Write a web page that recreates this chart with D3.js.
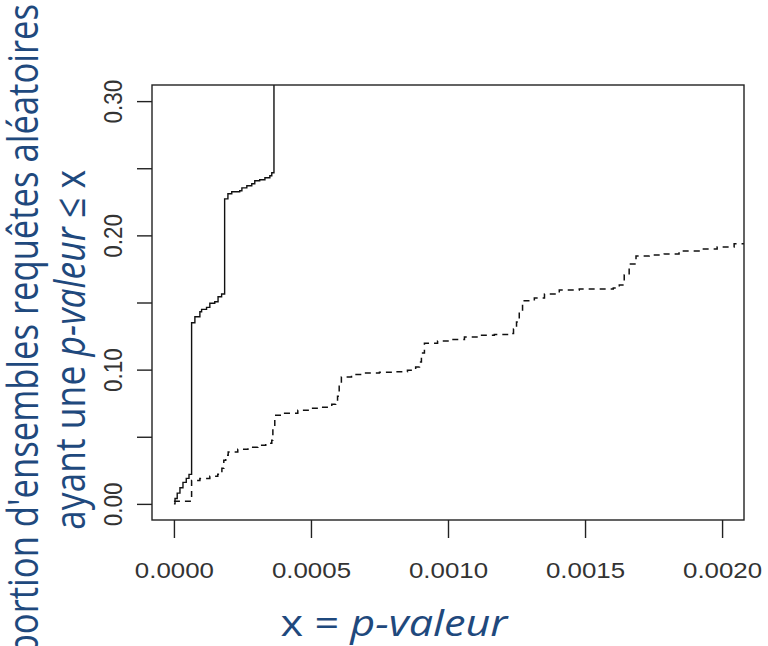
<!DOCTYPE html>
<html>
<head>
<meta charset="utf-8">
<script src="https://cdn.jsdelivr.net/npm/d3@7"></script>
<style>
  body { margin: 0; background: #fff; }
  svg { display: block; }
</style>
</head>
<body>
<div id="chart"></div>
<script>
// p-values (x) and cumulative proportion (y) at each jump of the two curves
var solidX = [0, 0.000004, 0.000012, 0.000022, 0.000033, 0.000045, 0.000055, 0.0000645,
  0.0000765, 0.0000947, 0.000101, 0.000119, 0.000131, 0.000149, 0.000161, 0.000174, 0.000185,
  0.000197, 0.000211, 0.00024, 0.000248, 0.000266, 0.000284, 0.000295, 0.000313, 0.000332,
  0.00035, 0.000357, 0.000365];
var solidY = [0, 0.004, 0.008, 0.012, 0.016, 0.019, 0.022, 0.1349,
  0.1394, 0.1431, 0.1449, 0.1464, 0.1494, 0.1506, 0.1543, 0.1563, 0.2272,
  0.231, 0.2325, 0.2332, 0.2354, 0.237, 0.2384, 0.2407, 0.2414, 0.2429,
  0.2444, 0.2466, 0.36];

var dashX = [0, 0.0000645, 0.0000947, 0.000131, 0.00016, 0.000175, 0.000182, 0.000189, 0.000198,
  0.000233, 0.00027, 0.000306, 0.000335, 0.000357, 0.000361, 0.000368,
  0.000404, 0.000452, 0.000495, 0.000539, 0.000576, 0.00059, 0.000597, 0.000603, 0.000611,
  0.000648, 0.000696, 0.00075, 0.000805, 0.000852, 0.000882, 0.000896, 0.000903, 0.000914,
  0.000962, 0.001013, 0.00106, 0.001115, 0.001169, 0.001217, 0.001239, 0.00125, 0.00126, 0.001272,
  0.001315, 0.001352, 0.001406, 0.001479, 0.001552, 0.001603, 0.001625, 0.001643, 0.001661, 0.001686,
  0.001734, 0.001789, 0.001843, 0.001916, 0.001982, 0.002044, 0.00209];
var dashY = [0.002, 0.0175, 0.019, 0.0205, 0.022, 0.0265, 0.0325, 0.0362, 0.0387,
  0.0407, 0.0422, 0.0437, 0.0451, 0.0474, 0.0563, 0.066,
  0.0675, 0.0698, 0.0713, 0.072, 0.0743, 0.0757, 0.0802, 0.0877, 0.0946,
  0.0963, 0.0974, 0.0981, 0.0985, 0.0996, 0.1019, 0.1056, 0.1123, 0.1196,
  0.1213, 0.1224, 0.1243, 0.1257, 0.1261, 0.1269, 0.1302, 0.1354, 0.1429, 0.1513,
  0.1534, 0.1563, 0.1593, 0.1601, 0.1601, 0.1608, 0.1631, 0.1705, 0.1787, 0.1847,
  0.1854, 0.1862, 0.1884, 0.1899, 0.1914, 0.1937, 0.1951];

var xTicks = [0, 0.0005, 0.001, 0.0015, 0.002];
var xTickLabels = ["0.0000", "0.0005", "0.0010", "0.0015", "0.0020"];
var yTicks = [0, 0.05, 0.1, 0.15, 0.2, 0.25, 0.3];
var yTickLabels = ["0.00", "", "0.10", "", "0.20", "", "0.30"];

function drawChart() {
  var width = 768,
      height = 646;
  var plotLeft = 152, plotRight = 744, plotTop = 85, plotBottom = 520;
  var stretch = 1.15;   // the picture is a bit wider than tall
  var blue = "#1f497d";

  var svg = d3.select("#chart")
    .append("svg")
      .attr("width", width)
      .attr("height", height)
      .style("background", "#fff");

  var x = d3.scaleLinear().domain([-0.00008, 0.00208]).range([plotLeft, plotRight]);
  var y = d3.scaleLinear().domain([-0.012, 0.312]).range([plotBottom, plotTop]);

  svg.append("clipPath")
      .attr("id", "plotclip")
    .append("rect")
      .attr("x", plotLeft)
      .attr("y", plotTop)
      .attr("width", plotRight - plotLeft)
      .attr("height", plotBottom - plotTop);

  // curves (empirical cumulative distributions, so step shape)
  var line = d3.line()
    .x(function(d) { return x(d[0]); })
    .y(function(d) { return y(d[1]); })
    .curve(d3.curveStepAfter);

  var plot = svg.append("g").attr("clip-path", "url(#plotclip)");

  plot.append("path")
    .datum(d3.zip(solidX, solidY))
    .attr("d", line)
    .attr("fill", "none")
    .attr("stroke", "#111")
    .attr("stroke-width", 1.4);

  plot.append("path")
    .datum(d3.zip(dashX, dashY))
    .attr("d", line)
    .attr("fill", "none")
    .attr("stroke", "#111")
    .attr("stroke-width", 1.5)
    .attr("stroke-dasharray", "6,5");

  // box
  svg.append("rect")
    .attr("x", plotLeft)
    .attr("y", plotTop)
    .attr("width", plotRight - plotLeft)
    .attr("height", plotBottom - plotTop)
    .attr("fill", "none")
    .attr("stroke", "#222")
    .attr("stroke-width", 1.4);

  // x axis
  var xAxis = svg.append("g")
    .attr("transform", "translate(0," + plotBottom + ")")
    .call(d3.axisBottom(x)
      .tickValues(xTicks)
      .tickFormat(function(d, i) { return xTickLabels[i]; })
      .tickSize(18)
      .tickSizeOuter(0));
  xAxis.select(".domain").remove();
  xAxis.selectAll("line").attr("stroke", "#222").attr("stroke-width", 1.4);
  xAxis.selectAll("text")
    .attr("y", 58)
    .attr("dy", 0)
    .attr("transform", "scale(" + stretch + ",1)")
    .attr("fill", "#333")
    .style("font-family", "'Liberation Sans', Arial, sans-serif")
    .style("font-size", "22.5px");

  // y axis
  var yAxis = svg.append("g")
    .attr("transform", "translate(" + plotLeft + ",0)")
    .call(d3.axisLeft(y)
      .tickValues(yTicks)
      .tickFormat(function(d, i) { return yTickLabels[i]; })
      .tickSize(15)
      .tickSizeOuter(0));
  yAxis.select(".domain").remove();
  yAxis.selectAll("line").attr("stroke", "#222").attr("stroke-width", 1.4);
  yAxis.selectAll("text")
    .attr("x", 0)
    .attr("y", 0)
    .attr("dy", 0)
    .attr("text-anchor", "middle")
    .attr("transform", "translate(-30,0) scale(" + stretch + ",1) rotate(-90)")
    .attr("fill", "#333")
    .style("font-family", "'Liberation Sans', Arial, sans-serif")
    .style("font-size", "22.5px");

  // axis titles
  var xTitle = svg.append("text")
    .attr("text-anchor", "middle")
    .attr("transform", "translate(394,636) scale(1.2,1)")
    .attr("fill", blue)
    .style("font-family", "'Open Sans', sans-serif")
    .style("font-size", "36px");
  xTitle.append("tspan").text("x = ");
  xTitle.append("tspan").style("font-style", "italic").text("p-valeur");

  svg.append("text")
    .attr("text-anchor", "end")
    .attr("transform", "translate(38,4) scale(1.2,1) rotate(-90)")
    .attr("fill", blue)
    .style("font-family", "'Open Sans', sans-serif")
    .style("font-size", "34.6px")
    .text("Proportion d'ensembles requêtes aléatoires");

  var yTitle2 = svg.append("text")
    .attr("text-anchor", "middle")
    .attr("transform", "translate(85,350) scale(1.2,1) rotate(-90)")
    .attr("fill", blue)
    .style("font-family", "'Open Sans', sans-serif")
    .style("font-size", "35.5px");
  yTitle2.append("tspan").text("ayant une ");
  yTitle2.append("tspan").style("font-style", "italic").text("p-valeur");
  yTitle2.append("tspan").text(" ≤ x");
}

drawChart();
</script>
</body>
</html>
